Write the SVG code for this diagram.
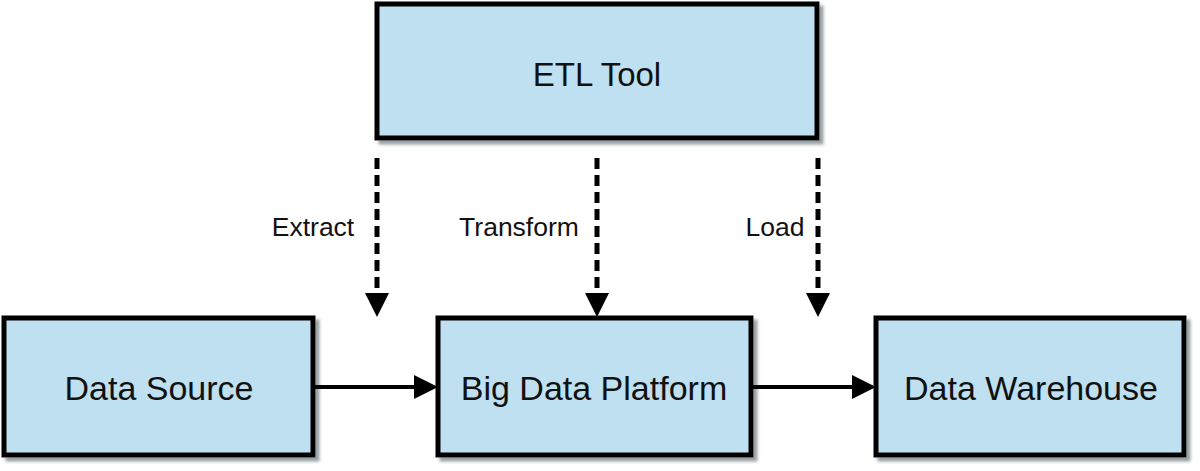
<svg xmlns="http://www.w3.org/2000/svg" width="1200" height="471" viewBox="0 0 1200 471">
<defs>
<style>
.box{fill:#bfe0f0;stroke:#000;stroke-width:5;filter:url(#sh)}
.lbl{font-family:"Liberation Sans",Arial,sans-serif;font-size:34px;fill:#111;text-anchor:middle}
.el{font-family:"Liberation Sans",Arial,sans-serif;font-size:26.5px;fill:#111;text-anchor:middle}
.solid{stroke:#000;stroke-width:4;fill:none}
.dash{stroke:#000;stroke-width:5;fill:none;stroke-dasharray:11 6}
.head{fill:#000}
</style>
<filter id="sh" x="-10%" y="-10%" width="130%" height="130%">
<feDropShadow dx="4" dy="4" stdDeviation="1.5" flood-color="#7d878c" flood-opacity="0.8"/>
</filter>
</defs>
<rect width="1200" height="471" fill="#fff"/>
<g id="etl-tool">
<rect class="box" x="377" y="4" width="440" height="134"/>
<text class="lbl" x="597" y="86" style="font-size:33px">ETL Tool</text>
</g>
<g id="data-source">
<rect class="box" x="4" y="318" width="309" height="137"/>
<text class="lbl" x="159" y="400">Data Source</text>
</g>
<g id="big-data-platform">
<rect class="box" x="438" y="318" width="313" height="137"/>
<text class="lbl" x="594" y="400">Big Data Platform</text>
</g>
<g id="data-warehouse">
<rect class="box" x="876" y="318" width="308" height="137"/>
<text class="lbl" x="1031" y="400">Data Warehouse</text>
</g>
<g id="connectors">
<line class="solid" x1="313" y1="387" x2="416" y2="387"/>
<polygon class="head" points="414,375 438,387 414,399"/>
<line class="solid" x1="751" y1="387" x2="854" y2="387"/>
<polygon class="head" points="852,375 876,387 852,399"/>
<line class="dash" x1="377" y1="158" x2="377" y2="294"/>
<polygon class="head" points="365,293 389,293 377,317"/>
<line class="dash" x1="597" y1="158" x2="597" y2="294"/>
<polygon class="head" points="585,293 609,293 597,317"/>
<line class="dash" x1="818" y1="158" x2="818" y2="294"/>
<polygon class="head" points="806,293 830,293 818,317"/>
<text class="el" x="313" y="236">Extract</text>
<text class="el" x="519" y="236">Transform</text>
<text class="el" x="775" y="236">Load</text>
</g>
</svg>
